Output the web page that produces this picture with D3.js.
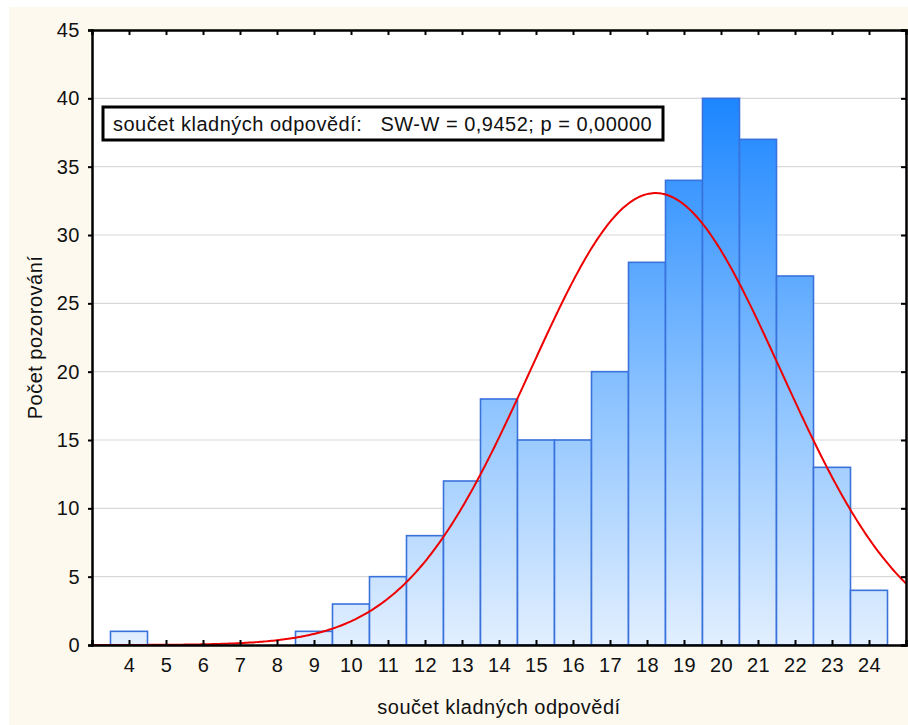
<!DOCTYPE html>
<html>
<head>
<meta charset="utf-8">
<script src="https://cdn.jsdelivr.net/npm/d3@7"></script>
<style>
	body { margin: 0; background: #fff; }
	text { font-family: "Liberation Sans", Arial, sans-serif; fill: #111; }
</style>
</head>
<body>
<div id="chart"></div>
<script>
const width = 908;
const height = 725;
const margin = { top: 30, right: 2, bottom: 80, left: 92 };
const fontSize = "20px";

// histogram bins (bin centres) and counts
const bins = [4, 5, 6, 7, 8, 9, 10, 11, 12, 13, 14, 15, 16, 17, 18, 19, 20, 21, 22, 23, 24];
const counts = [1, 0, 0, 0, 0, 1, 3, 5, 8, 12, 18, 15, 15, 20, 28, 34, 40, 37, 27, 13, 4];
const yTicks = [0, 5, 10, 15, 20, 25, 30, 35, 40, 45];
const legendText = "součet kladných odpovědí:   SW-W = 0,9452; p = 0,00000";
const xTitle = "součet kladných odpovědí";
const yTitle = "Počet pozorování";

function init() {
	const svg = d3.select("#chart").append("svg").attr("width", width).attr("height", height);

	svg.append("rect").attr("x", 9).attr("y", 7).attr("width", width - 9).attr("height", height - 7).attr("fill", "#fdf9ef");

	const x = d3.scaleLinear().domain([3, 25]).range([margin.left, width - margin.right]);
	const y = d3.scaleLinear().domain([0, 45]).range([height - margin.bottom, margin.top]);

	svg.append("rect")
		.attr("x", x(3)).attr("y", y(45))
		.attr("width", x(25) - x(3)).attr("height", y(0) - y(45))
		.attr("fill", "#fff");

	const defs = svg.append("defs");
	const grad = defs.append("linearGradient")
		.attr("id", "barGrad")
		.attr("gradientUnits", "userSpaceOnUse")
		.attr("x1", 0).attr("x2", 0)
		.attr("y1", y(0)).attr("y2", y(40));
	grad.append("stop").attr("offset", "0%").attr("stop-color", "#e2efff");
	grad.append("stop").attr("offset", "45%").attr("stop-color", "#8cc3ff");
	grad.append("stop").attr("offset", "100%").attr("stop-color", "#1c86ff");
	defs.append("clipPath").attr("id", "plotClip")
		.append("rect")
		.attr("x", x(3)).attr("y", y(45))
		.attr("width", x(25) - x(3)).attr("height", y(0) - y(45));

	// grid
	svg.append("g")
		.selectAll("line")
		.data(yTicks.filter((t) => t > 0 && t < 45))
		.enter()
		.append("line")
		.attr("x1", x(3)).attr("x2", x(25))
		.attr("y1", (d) => y(d)).attr("y2", (d) => y(d))
		.attr("stroke", "#d9d9d9")
		.attr("stroke-width", 1.2);

	// bars
	const data = bins.map((b, i) => ({ bin: b, count: counts[i] }));
	svg.append("g")
		.selectAll("rect")
		.data(data.filter((d) => d.count > 0))
		.enter()
		.append("rect")
		.attr("x", (d) => x(d.bin - 0.5))
		.attr("y", (d) => y(d.count))
		.attr("width", (d) => x(d.bin + 0.5) - x(d.bin - 0.5))
		.attr("height", (d) => y(0) - y(d.count))
		.attr("fill", "url(#barGrad)")
		.attr("stroke", "#3a72dc")
		.attr("stroke-width", 1.6);

	// fitted normal curve from the histogram
	const n = d3.sum(counts);
	const mean = d3.sum(data, (d) => d.bin * d.count) / n;
	const sd = Math.sqrt(d3.sum(data, (d) => d.count * (d.bin - mean) ** 2) / (n - 1));
	const curveX = d3.range(3, 25.001, 0.05);
	const line = d3.line()
		.x((v) => x(v))
		.y((v) => y((n / (sd * Math.sqrt(2 * Math.PI))) * Math.exp(-0.5 * ((v - mean) / sd) ** 2)));
	svg.append("path")
		.datum(curveX)
		.attr("clip-path", "url(#plotClip)")
		.attr("d", line)
		.attr("fill", "none")
		.attr("stroke", "#ee0000")
		.attr("stroke-width", 2);

	// axes
	const xAxis = d3.axisBottom(x).tickValues(bins).tickSize(-5).tickPadding(13).tickFormat(d3.format("d"));
	const gx = svg.append("g").attr("transform", `translate(0,${y(0)})`).call(xAxis);
	const xTop = d3.axisTop(x).tickValues(bins).tickSize(-5).tickFormat("");
	const gxt = svg.append("g").attr("transform", `translate(0,${y(45)})`).call(xTop);
	const yAxis = d3.axisLeft(y).tickValues(yTicks).tickSize(4).tickPadding(8);
	const gy = svg.append("g").attr("transform", `translate(${x(3)},0)`).call(yAxis);
	const yRight = d3.axisRight(y).tickValues(yTicks).tickSize(-5).tickFormat("");
	const gyr = svg.append("g").attr("transform", `translate(${x(25)},0)`).call(yRight);

	[gx, gxt, gy, gyr].forEach((g) => {
		g.select(".domain").attr("stroke", "#000").attr("stroke-width", 2.5);
		g.selectAll(".tick line").attr("stroke", "#000").attr("stroke-width", 2);
		g.selectAll(".tick text")
			.style("font-family", '"Liberation Sans", Arial, sans-serif')
			.style("font-size", fontSize)
			.style("letter-spacing", "0.5px")
			.attr("fill", "#111");
	});

	svg.append("text")
		.attr("x", (x(3) + x(25)) / 2)
		.attr("y", 714)
		.attr("text-anchor", "middle")
		.style("font-size", fontSize)
		.style("letter-spacing", "0.5px")
		.text(xTitle);
	svg.append("text")
		.attr("transform", `translate(42,${(y(0) + y(45)) / 2}) rotate(-90)`)
		.attr("text-anchor", "middle")
		.style("font-size", fontSize)
		.style("letter-spacing", "0.5px")
		.text(yTitle);

	// legend box
	const legend = svg.append("g");
	legend.append("rect")
		.attr("x", 103).attr("y", 107)
		.attr("width", 560).attr("height", 33)
		.attr("fill", "#fff")
		.attr("stroke", "#000")
		.attr("stroke-width", 3);
	legend.append("text")
		.attr("x", 113).attr("y", 131)
		.style("font-size", fontSize)
		.style("letter-spacing", "0.5px")
		.style("white-space", "pre")
		.attr("xml:space", "preserve")
		.text(legendText);
}

init();
</script>
</body>
</html>
